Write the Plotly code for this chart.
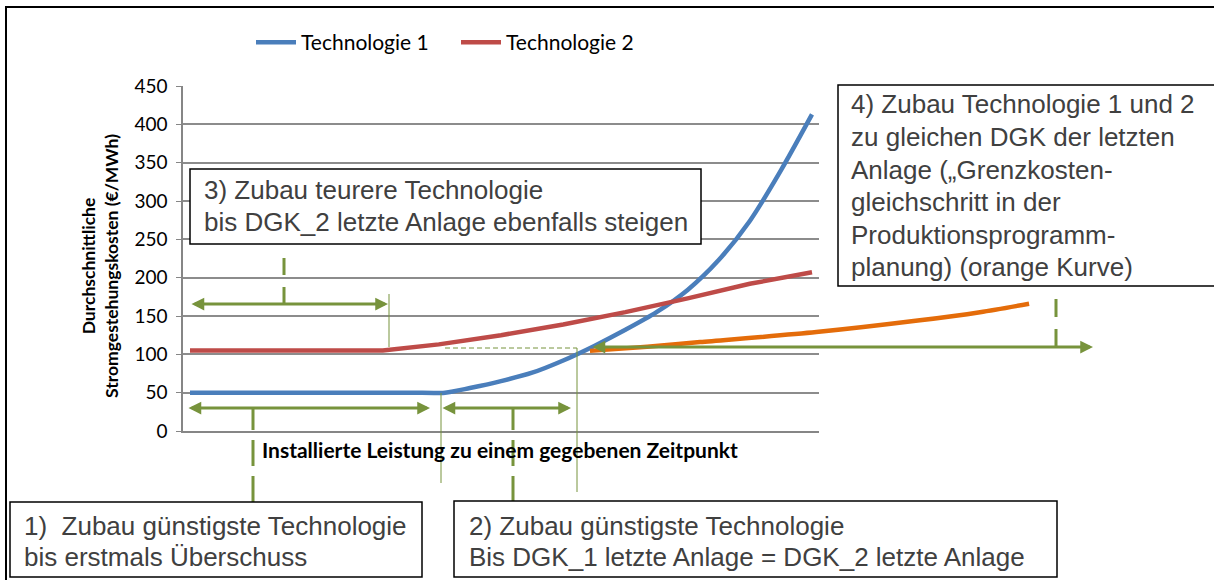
import plotly.graph_objects as go

# ---------------- data ----------------
series_names = ["Technologie 1", "Technologie 2"]
capacity_t1 = [0, 35, 41, 45, 50, 55, 60, 65, 70, 75, 80, 85, 90, 95, 100]
cost_t1 = [50, 50, 50, 56, 65, 76, 92, 111, 132, 155, 184, 223, 274, 340, 413]
capacity_t2 = [0, 31, 40, 50, 60, 70, 80, 90, 100]
cost_t2 = [105, 105, 113, 125, 139, 155, 173, 192, 207]
capacity_uniform = [64.3, 73.5, 82, 100.7, 117, 127, 134.9]
cost_uniform = [104.5, 110, 116, 129, 144, 155, 166]
y_ticks = [0, 50, 100, 150, 200, 250, 300, 350, 400, 450]

y_title_lines = ["Durchschnittliche", "Stromgestehungskosten (€/MWh)"]
x_title = "Installierte Leistung zu einem gegebenen Zeitpunkt"
box1_lines = ["1)  Zubau günstigste Technologie", "bis erstmals Überschuss"]
box2_lines = ["2) Zubau günstigste Technologie", "Bis DGK_1 letzte Anlage = DGK_2 letzte Anlage"]
box3_lines = ["3) Zubau teurere Technologie", "bis DGK_2 letzte Anlage ebenfalls steigen"]
box4_lines = ["4) Zubau Technologie 1 und 2", "zu gleichen DGK der letzten",
              "Anlage („Grenzkosten-", "gleichschritt in der",
              "Produktionsprogramm-", "planung) (orange Kurve)"]

# ---------------- geometry helpers ----------------
W, H = 1214, 580
def px(x):
    return x / W
def py(y):
    return 1 - y / H

BLUE = "#4A7EBB"
RED = "#BE4B48"
ORANGE = "#E46C0A"
GREEN = "#77933C"
GRID = "#8C8C8C"
TXT = "#404040"
CHART_FONT = "Lato"
BOX_FONT = "Liberation Sans"

plot_l, plot_r, plot_t, plot_b = 183, 819, 86, 431
first_pt = 190
unit = 6.22  # px per capacity unit

fig = go.Figure()
fig.add_trace(go.Scatter(x=capacity_t1, y=cost_t1, name=series_names[0], mode="lines",
                         line=dict(color=BLUE, width=4.5, shape="spline", smoothing=0.8),
                         xaxis="x", yaxis="y", hoverinfo="skip"))
fig.add_trace(go.Scatter(x=capacity_t2, y=cost_t2, name=series_names[1], mode="lines",
                         line=dict(color=RED, width=4.5, shape="linear"),
                         xaxis="x", yaxis="y", hoverinfo="skip"))
fig.add_trace(go.Scatter(x=capacity_uniform, y=cost_uniform, name="orange", mode="lines",
                         line=dict(color=ORANGE, width=4.5, shape="spline", smoothing=0.8),
                         xaxis="x2", yaxis="y2", showlegend=False, hoverinfo="skip"))

shapes = []
annotations = []

# outer frame
shapes.append(dict(type="rect", xref="paper", yref="paper", x0=px(6), x1=px(1240),
                   y0=py(7), y1=py(600), line=dict(color="#000000", width=2),
                   fillcolor="rgba(0,0,0,0)", layer="below"))

def vline(x, y0, y1, width=1, dash="solid"):
    shapes.append(dict(type="line", xref="paper", yref="paper", x0=px(x), x1=px(x),
                       y0=py(y0), y1=py(y1), line=dict(color=GREEN, width=width, dash=dash),
                       layer="above"))

def hline(x0, x1, y, width=1, dash="solid"):
    shapes.append(dict(type="line", xref="paper", yref="paper", x0=px(x0), x1=px(x1),
                       y0=py(y), y1=py(y), line=dict(color=GREEN, width=width, dash=dash),
                       layer="above"))

def darrow(x0, x1, y):
    annotations.append(dict(xref="paper", yref="paper", x=px(x1), y=py(y),
                            axref="pixel", ayref="pixel", ax=x0 - x1, ay=0,
                            text="", showarrow=True, arrowhead=2, startarrowhead=2,
                            arrowside="end+start", arrowsize=0.85, startarrowsize=0.85,
                            arrowwidth=3, arrowcolor=GREEN, standoff=0, startstandoff=0))

# thin helper lines
vline(389, 294, 347)
vline(441, 393, 483)
vline(577, 348, 492)
hline(445, 577, 348, width=1, dash="5px,3px")

# dashed connectors (thick)
vline(284, 304, 258, width=3, dash="17px,12px")
vline(253, 502, 408, width=3, dash="26px,10px")
vline(513, 502, 408, width=3, dash="26px,10px")
vline(1056, 347, 298, width=3, dash="18px,12px")

# double arrows
darrow(190, 388, 304)
darrow(187, 430, 408)
darrow(441, 571, 408)
darrow(591, 1093, 347)

# text boxes
def box(x0, y0, x1, y1, lines, tx, ys):
    shapes.append(dict(type="rect", xref="paper", yref="paper", x0=px(x0), x1=px(x1),
                       y0=py(y0), y1=py(y1), line=dict(color="#000000", width=1.5),
                       fillcolor="#FFFFFF", layer="above"))
    for ln, yy in zip(lines, ys):
        annotations.append(dict(xref="paper", yref="paper", x=px(tx), y=py(yy),
                                xanchor="left", yanchor="middle", text=ln, showarrow=False,
                                font=dict(family=BOX_FONT, size=26, color=TXT)))

box(190, 169, 701, 244, box3_lines, 202, [190, 222])
box(838, 85, 1240, 286, box4_lines, 849, [104, 137, 170, 202, 235, 267])
box(10, 502, 422, 577, box1_lines, 22, [526, 557])
box(454, 501, 1057, 577, box2_lines, 467, [526, 557])

# axis titles
annotations.append(dict(xref="paper", yref="paper", x=px(100), y=py(266),
                        text="<b>" + y_title_lines[0] + "</b><br><b>" + y_title_lines[1] + "</b>",
                        textangle=-90, showarrow=False,
                        font=dict(family=CHART_FONT, size=17.5, color="#000000"),
                        xanchor="center", yanchor="middle"))
annotations.append(dict(xref="paper", yref="paper", x=px(500), y=py(449),
                        text="<b>" + x_title + "</b>", showarrow=False,
                        font=dict(family=CHART_FONT, size=21, color="#000000"),
                        xanchor="center", yanchor="middle"))

xr = [(plot_l - first_pt) / unit, (plot_r - first_pt) / unit]
xr2 = [(plot_l - first_pt) / unit, (W - first_pt) / unit]

fig.update_layout(
    width=W, height=H,
    margin=dict(l=0, r=0, t=0, b=0, autoexpand=False),
    paper_bgcolor="#FFFFFF", plot_bgcolor="rgba(0,0,0,0)",
    font=dict(family=CHART_FONT, color="#000000"),
    showlegend=True,
    legend=dict(orientation="h", xref="container", yref="container",
                x=px(251), y=py(22), xanchor="left", yanchor="top",
                font=dict(family=CHART_FONT, size=21, color="#000000"),
                bgcolor="rgba(0,0,0,0)", itemwidth=40, entrywidth=150, entrywidthmode="pixels"),
    xaxis=dict(domain=[px(plot_l), px(plot_r)], range=xr, showgrid=False, zeroline=False,
               showline=True, linecolor="#868686", linewidth=1.5, ticks="",
               showticklabels=False, fixedrange=True, automargin=False),
    yaxis=dict(domain=[py(plot_b), py(plot_t)], range=[0, 450], tickvals=y_ticks,
               showgrid=True, gridcolor=GRID, gridwidth=1.5, zeroline=False,
               showline=True, linecolor="#868686", linewidth=1.5, ticks="outside",
               ticklen=5, tickcolor="#868686", ticklabelstandoff=5,
               tickfont=dict(family=CHART_FONT, size=19, color="#000000"), fixedrange=True,
               automargin=False),
    xaxis2=dict(domain=[px(plot_l), 1], range=xr2, visible=False, anchor="y2", fixedrange=True,
                automargin=False),
    yaxis2=dict(domain=[py(plot_b), py(plot_t)], range=[0, 450], visible=False, anchor="x2",
                fixedrange=True, automargin=False),
    shapes=shapes,
    annotations=annotations,
)

fig.write_html("out.html", config={"displayModeBar": False},
               post_script="document.body.style.margin='0';document.body.style.overflow='hidden';")
